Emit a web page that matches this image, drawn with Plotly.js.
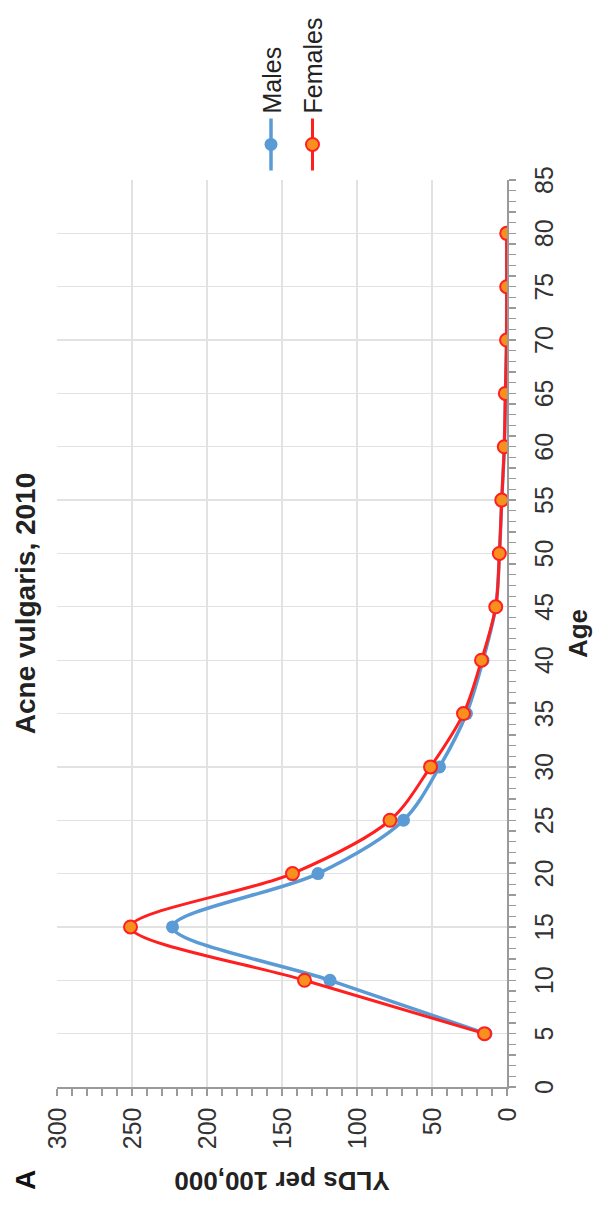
<!DOCTYPE html>
<html>
<head>
<meta charset="utf-8">
<script src="https://cdn.plot.ly/plotly-3.0.1.min.js"></script>
<style>
  html, body { margin: 0; padding: 0; overflow: hidden; background: #fff; width: 593px; height: 1207px; }
  #chart { position: absolute; left: 0; top: 0; width: 1207px; height: 593px;
           transform-origin: 0 0; transform: translate(0px, 1207px) rotate(-90deg); }
</style>
</head>
<body>
<div id="chart"></div>
<script>
// Data
const ages = [5, 10, 15, 20, 25, 30, 35, 40, 45, 50, 55, 60, 65, 70, 75, 80];
const males = [14, 118, 223, 126, 69, 45, 27, 16, 7.5, 5, 3.5, 1.8, 1.0, 0.3, 0.2, 0.2];
const females = [15, 135, 251, 143, 78, 51, 29, 17, 7.5, 5.1, 3.5, 1.8, 1.1, 0.3, 0.2, 0.2];
const chartTitle = 'Acne vulgaris, 2010';
const xTitle = 'Age';
const yTitle = 'YLDs per 100,000';
const panelLabel = 'A';

const FONT = 'Liberation Sans, Arial, sans-serif';
const axisCommon = {
  showline: true, linecolor: '#9a9a9a', linewidth: 1.5,
  ticks: 'outside', ticklen: 7, tickcolor: '#9a9a9a', tickwidth: 1.3,
  showgrid: true, gridcolor: '#e2e2e2', gridwidth: 1.3,
  zeroline: false, tickfont: {family: FONT, size: 25, color: '#333'},
  ticklabelstandoff: 7
};

const traces = [
  {x: ages, y: males, name: 'Males', legendgroup: 'm', type: 'scatter', mode: 'lines+markers',
   line: {color: '#5b9bd5', width: 3.5, shape: 'spline', smoothing: 0.9},
   marker: {color: '#5b9bd5', size: 13}},
  {x: ages, y: females, name: 'Females', legendgroup: 'f', type: 'scatter', mode: 'lines+markers',
   line: {color: '#ff1f1f', width: 3, shape: 'spline', smoothing: 0.9},
   marker: {color: '#f7901e', size: 13, line: {color: '#ff1f1f', width: 2}}}
];

const layout = {
  width: 1207, height: 593,
  margin: {l: 120, r: 175, t: 57, b: 86},
  paper_bgcolor: '#fff', plot_bgcolor: '#fff',
  font: {family: FONT, color: '#222'},
  title: {text: chartTitle, font: {family: FONT, size: 28, weight: 'bold', color: '#222'},
          xref: 'container', x: 0.5, xanchor: 'center', yref: 'container', y: 0.958, yanchor: 'middle'},
  xaxis: Object.assign({}, axisCommon, {
    range: [0, 85], tickmode: 'linear', tick0: 0, dtick: 5,
    minor: {dtick: 1, ticks: 'outside', ticklen: 7, tickcolor: '#9a9a9a', tickwidth: 1.3, showgrid: false},
    title: {text: xTitle, font: {family: FONT, size: 26, weight: 'bold', color: '#222'}, standoff: 12}
  }),
  yaxis: Object.assign({}, axisCommon, {
    range: [0, 300], tickmode: 'linear', tick0: 0, dtick: 50,
    minor: {dtick: 10, ticks: 'outside', ticklen: 7, tickcolor: '#9a9a9a', tickwidth: 1.3, showgrid: false},
    title: {text: yTitle, font: {family: FONT, size: 26, weight: 'bold', color: '#222'}, standoff: 14}
  }),
  xaxis2: {overlaying: 'x', anchor: 'y', range: [0, 85], tickmode: 'linear', tick0: 0, dtick: 1,
           ticks: 'inside', ticklen: 7, tickcolor: '#9a9a9a', tickwidth: 1.3,
           showticklabels: false, showgrid: false, showline: false, zeroline: false},
  yaxis2: {overlaying: 'y', anchor: 'x', range: [0, 300], tickmode: 'linear', tick0: 0, dtick: 10,
           ticks: 'inside', ticklen: 7, tickcolor: '#9a9a9a', tickwidth: 1.3,
           showticklabels: false, showgrid: false, showline: false, zeroline: false},
  legend: {x: 1.005, xanchor: 'left', y: 0.575, yanchor: 'top', orientation: 'v',
           font: {family: FONT, size: 25, color: '#222'}, itemwidth: 52, bgcolor: 'rgba(0,0,0,0)',
           tracegroupgap: 6},
  annotations: [
    {text: panelLabel, xref: 'paper', yref: 'paper', x: -0.103, y: 1.069, xanchor: 'center', yanchor: 'middle',
     showarrow: false, font: {family: FONT, size: 28, weight: 'bold', color: '#111'}}
  ]
};

Plotly.newPlot('chart', traces, layout, {displayModeBar: false, staticPlot: true});
</script>
</body>
</html>
